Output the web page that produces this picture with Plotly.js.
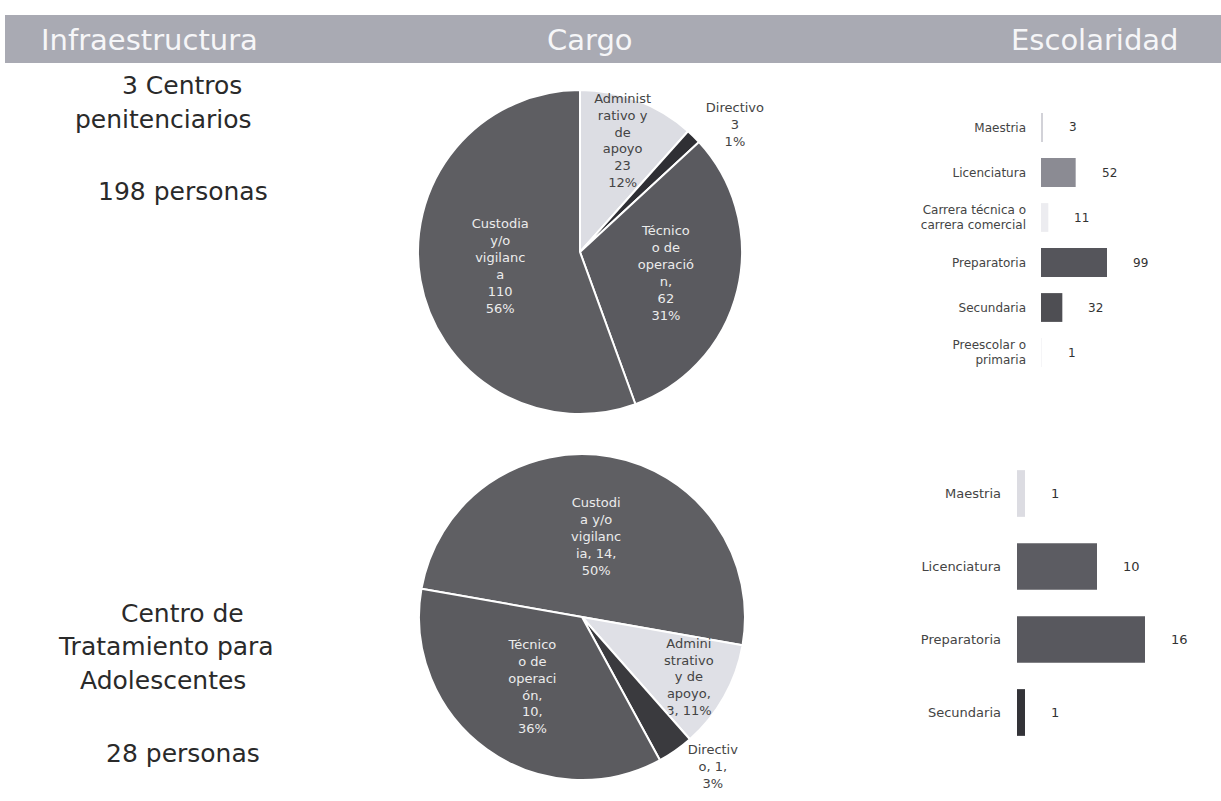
<!DOCTYPE html>
<html>
<head>
<meta charset="utf-8">
<script src="https://cdn.plot.ly/plotly-3.0.1.min.js"></script>
<style>html,body{margin:0;padding:0;background:#fff;}#chart{width:1221px;height:801px;}</style>
</head>
<body>
<div id="chart"></div>
<script>
// ---------- DATA ----------
var headerTitles = ["Infraestructura", "Cargo", "Escolaridad"];
var groupTop = ["3 Centros", "penitenciarios", "198 personas"];
var groupBottom = ["Centro de", "Tratamiento para", "Adolescentes", "28 personas"];

// Cargo – Centros penitenciarios (clockwise from 12 o'clock)
var cargoTopLabels = ["Administrativo y de apoyo", "Directivo", "Técnico o de operación", "Custodia y/o vigilancia"];
var cargoTopWrapped = ["Administ<br>rativo y<br>de<br>apoyo", "Directivo", "Técnico<br>o de<br>operació<br>n,", "Custodia<br>y/o<br>vigilanc<br>a"];
var cargoTopValues = [23, 3, 62, 110];
var cargoTopPct = ["12%", "1%", "31%", "56%"];

// Cargo – Centro de Tratamiento para Adolescentes (clockwise)
var cargoBotLabels = ["Custodia y/o vigilancia", "Administrativo y de apoyo", "Directivo", "Técnico o de operación"];
var cargoBotWrapped = ["Custodi<br>a y/o<br>vigilanc<br>ia,", "Admini<br>strativo<br>y de<br>apoyo,", "Directiv<br>o,", "Técnico<br>o de<br>operaci<br>ón,"];
var cargoBotValues = [14, 3, 1, 10];
var cargoBotPct = ["50%", "11%", "3%", "36%"];

// Escolaridad
var escTopCats = ["Maestria", "Licenciatura", "Carrera técnica o<br>carrera comercial", "Preparatoria", "Secundaria", "Preescolar o<br>primaria"];
var escTopValues = [3, 52, 11, 99, 32, 1];
var escBotCats = ["Maestria", "Licenciatura", "Preparatoria", "Secundaria"];
var escBotValues = [1, 10, 16, 1];

// ---------- STYLE ----------
var W = 1221, H = 801;
function px(x){ return x / W; }
function py(y){ return 1 - y / H; }
var FONT = "DejaVu Sans, Arial, sans-serif";

var topSep = [["<br>", "<br>"], ["<br>", "<br>"], ["<br>", "<br>"], ["<br>", "<br>"]];
var botSep = [[" ", "<br>"], ["<br>", " "], [" ", "<br>"], ["<br>", "<br>"]];
var topText = cargoTopWrapped.map(function(w, i){ return w + topSep[i][0] + cargoTopValues[i] + topSep[i][1] + cargoTopPct[i]; });
var botText = cargoBotWrapped.map(function(w, i){ return w + botSep[i][0] + cargoBotValues[i] + "," + botSep[i][1] + cargoBotPct[i]; });

var pieTop = {
  type: "pie", labels: cargoTopLabels, values: cargoTopValues, text: topText,
  textinfo: "text", texttemplate: "%{text}", hoverinfo: "label+value+percent",
  sort: false, direction: "clockwise", rotation: 0,
  domain: {x: [px(418), px(742)], y: [py(414), py(90)]},
  marker: {colors: ["#dcdde3", "#2f2f34", "#5a5a5f", "#5e5e62"], line: {color: "#ffffff", width: 2}},
  textposition: ["inside", "outside", "inside", "inside"],
  insidetextorientation: "horizontal",
  textfont: {family: FONT, size: 13, color: ["#444444", "#444444", "#ececec", "#ececec"]},
  outsidetextfont: {family: FONT, size: 12, color: "#444444"}
};
var pieBot = {
  type: "pie", labels: cargoBotLabels, values: cargoBotValues, text: botText,
  textinfo: "text", texttemplate: "%{text}", hoverinfo: "label+value+percent",
  sort: false, direction: "clockwise", rotation: -80,
  domain: {x: [px(419), px(745)], y: [py(780), py(454)]},
  marker: {colors: ["#5f5f63", "#dfe0e6", "#3a3a3e", "#5b5b5f"], line: {color: "#ffffff", width: 2}},
  textposition: ["inside", "inside", "outside", "inside"],
  insidetextorientation: "horizontal",
  textfont: {family: FONT, size: 13, color: ["#ececec", "#444444", "#444444", "#ececec"]},
  outsidetextfont: {family: FONT, size: 12, color: "#444444"}
};

var barTop = {
  type: "bar", orientation: "h", x: escTopValues, y: escTopCats, xaxis: "x", yaxis: "y",
  marker: {color: ["#d2d2d8", "#8b8b93", "#ececf0", "#55555b", "#4e4e53", "#f0f0f3"]},
  hoverinfo: "x+y"
};
var barBot = {
  type: "bar", orientation: "h", x: escBotValues, y: escBotCats, xaxis: "x2", yaxis: "y2",
  marker: {color: ["#dcdce2", "#5c5c62", "#58585e", "#333338"]},
  hoverinfo: "x+y"
};

var ann = [];
// header
var headerX = [149, 590, 1095];
headerTitles.forEach(function(t, i){
  ann.push({text: t, x: px(headerX[i]), y: py(40), xref: "paper", yref: "paper", showarrow: false,
    xanchor: "center", yanchor: "middle", font: {family: "Liberation Sans Narrow, DejaVu Sans, sans-serif", size: 29, color: "#f6f6f8"}});
});
// left group texts
var gTopPos = [[182, 85], [163, 119], [183, 191]];
groupTop.forEach(function(t, i){
  ann.push({text: t, x: px(gTopPos[i][0]), y: py(gTopPos[i][1]), xref: "paper", yref: "paper", showarrow: false,
    xanchor: "center", yanchor: "middle", font: {family: FONT, size: 25, color: "#2a2a2a"}});
});
var gBotPos = [[182, 613], [166, 646], [163, 680], [183, 753]];
groupBottom.forEach(function(t, i){
  ann.push({text: t, x: px(gBotPos[i][0]), y: py(gBotPos[i][1]), xref: "paper", yref: "paper", showarrow: false,
    xanchor: "center", yanchor: "middle", font: {family: FONT, size: 25, color: "#2a2a2a"}});
});
// bar value labels
escTopValues.forEach(function(v, i){
  ann.push({text: String(v), x: v, y: escTopCats[i], xref: "x", yref: "y", showarrow: false,
    xanchor: "left", yanchor: "middle", xshift: 24, font: {family: FONT, size: 12, color: "#333"}});
});
escBotValues.forEach(function(v, i){
  ann.push({text: String(v), x: v, y: escBotCats[i], xref: "x2", yref: "y2", showarrow: false,
    xanchor: "left", yanchor: "middle", xshift: 24, font: {family: FONT, size: 13, color: "#333"}});
});

var hiddenX = {showgrid: false, zeroline: false, showline: false, showticklabels: false, ticks: "", fixedrange: true};
var layout = {
  width: W, height: H, margin: {l: 0, r: 0, t: 0, b: 0},
  paper_bgcolor: "#ffffff", plot_bgcolor: "rgba(0,0,0,0)", showlegend: false,
  uniformtext: {mode: "show", minsize: 13},
  bargap: 0.36,
  xaxis: Object.assign({domain: [px(1041), px(1141)], range: [0, 150], anchor: "y"}, hiddenX),
  yaxis: {domain: [py(375), py(105)], type: "category", autorange: "reversed", anchor: "x",
    showgrid: false, zeroline: false, showline: false, ticks: "", ticklabelstandoff: 14,
    tickfont: {family: FONT, size: 12, color: "#444"}},
  xaxis2: Object.assign({domain: [px(1017), px(1177)], range: [0, 20], anchor: "y2"}, hiddenX),
  yaxis2: {domain: [py(749), py(457)], type: "category", autorange: "reversed", anchor: "x2",
    showgrid: false, zeroline: false, showline: false, ticks: "", ticklabelstandoff: 15,
    tickfont: {family: FONT, size: 13, color: "#444"}},
  shapes: [{type: "rect", xref: "paper", yref: "paper", x0: px(5), x1: 1, y0: py(63), y1: py(15),
    fillcolor: "#a9aab3", line: {width: 0}, layer: "below"}],
  annotations: ann
};

Plotly.newPlot("chart", [pieTop, pieBot, barTop, barBot], layout, {displayModeBar: false, staticPlot: true});
</script>
</body>
</html>
